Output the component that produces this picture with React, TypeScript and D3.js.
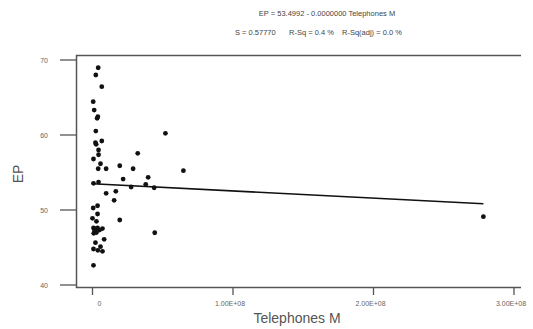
import React from "react";
import * as d3 from "d3";

const titleLine1 = "EP  = 53.4992 - 0.0000000 Telephones M";
const statS = "S = 0.57770";
const statR = "R-Sq = 0.4 %";
const statRadj = "R-Sq(adj) = 0.0 %";
const xTitle = "Telephones M";
const yTitle = "EP";

const yTicks = [40, 50, 60, 70];
const xTicks = [0, 1e8, 2e8, 3e8];
const xTickLabels = ["0", "1.00E+08", "2.00E+08", "3.00E+08"];

// Telephones (units) and EP values
const telephones = [
  4.05e6, 2.35e6, 6.6e6, 0.5e6, 1.2e6, 3.8e6, 3.3e6, 2.35e6, 2.1e6, 6.6e6,
  2.6e6, 4.3e6, 4.3e6, 0.7e6, 5.7e6, 4.05e6, 9.7e6, 19.4e6, 28.9e6, 32.2e6,
  51.9e6, 64.7e6, 21.8e6, 39.6e6, 0.7e6, 4.3e6, 27.5e6, 37.9e6, 43.9e6, 9.7e6,
  16.6e6, 15.4e6, 0.5e6, 3.6e6, 3.6e6, 0.0e6, 2.8e6, 19.4e6, 0.7e6, 2.1e6,
  3.6e6, 5.0e6, 7.1e6, 0.9e6, 8.3e6, 2.1e6, 5.7e6, 0.7e6, 3.8e6, 7.1e6,
  44.3e6, 0.7e6, 278.2e6, 1.4e6, 2.8e6,
];
const ep = [
  68.97, 68.0, 66.44, 64.44, 63.33, 62.44, 62.23, 60.53, 58.97, 59.2,
  58.76, 58.0, 57.37, 56.8, 56.17, 55.5, 55.5, 55.9, 55.5, 57.56,
  60.23, 55.24, 54.13, 54.36, 53.56, 53.73, 53.07, 53.43, 52.97, 52.23,
  52.49, 51.29, 50.27, 50.57, 49.47, 48.89, 48.49, 48.67, 47.6, 47.47,
  47.6, 47.33, 47.53, 46.89, 46.09, 45.64, 45.11, 44.8, 44.63, 44.49,
  46.97, 42.63, 49.11, 47.2, 47.0,
];

const intercept = 53.5;
const slope = -9.6e-9;

export default function App() {
  const W = 533;
  const H = 329;
  const x = d3.scaleLinear().domain([0, 3e8]).range([92.5, 514]);
  const y = d3.scaleLinear().domain([40, 70]).range([285, 60]);
  const boxL = 76.5;
  const boxR = 521;
  const boxT = 55.5;
  const boxB = 287.5;
  const xMin = d3.min(telephones) as number;
  const xMax = d3.max(telephones) as number;
  const lineGen = d3
    .line<number>()
    .x((d) => x(d))
    .y((d) => y(intercept + slope * d));
  const font = "'Liberation Sans', Arial, sans-serif";
  return (
    <svg
      width={W}
      height={H}
      style={{ position: "absolute", left: 0, top: 0, background: "#fff" }}
      fontFamily={font}
    >
      <rect x={0} y={0} width={W} height={H} fill="#fff" />
      <text x={327} y={16} fontSize={7.5} fill="#444" textAnchor="middle">
        {titleLine1}
      </text>
      <text x={235} y={35} fontSize={7.5} fill="#444">
        {statS}
      </text>
      <text x={289} y={35} fontSize={7.5} fill="#444">
        {statR}
      </text>
      <text x={342} y={35} fontSize={7.5} fill="#444">
        {statRadj}
      </text>

      {/* box */}
      <path
        d={`M${boxR},${boxT}H${boxL}V${boxB}H${boxR}`}
        fill="none"
        stroke="#555"
        strokeWidth={1.5}
      />

      {/* y ticks */}
      {yTicks.map((t) => (
        <g key={t}>
          <line x1={60} x2={boxL} y1={y(t)} y2={y(t)} stroke="#555" strokeWidth={1.3} />
          <text x={48} y={y(t) + 2.5} fontSize={7} fill="#666" textAnchor="end">
            {t}
          </text>
        </g>
      ))}

      {/* x ticks */}
      {xTicks.map((t, i) => (
        <g key={t}>
          <line x1={x(t)} x2={x(t)} y1={boxB} y2={295} stroke="#555" strokeWidth={1.3} />
          <text x={x(t) + (i === 0 ? 7 : -3)} y={306} fontSize={7} fill="#666" textAnchor="middle">
            {xTickLabels[i]}
          </text>
        </g>
      ))}

      <text x={297} y={323} fontSize={14} fill="#555" textAnchor="middle">
        {xTitle}
      </text>
      <text
        transform={`translate(23,174) rotate(-90)`}
        fontSize={14}
        fill="#555"
        textAnchor="middle"
      >
        {yTitle}
      </text>

      {/* regression line */}
      <path d={lineGen([xMin, xMax]) || ""} fill="none" stroke="#111" strokeWidth={1.6} />

      {/* points */}
      {telephones.map((t, i) => (
        <circle key={i} cx={x(t)} cy={y(ep[i])} r={2.4} fill="#111" />
      ))}
    </svg>
  );
}
